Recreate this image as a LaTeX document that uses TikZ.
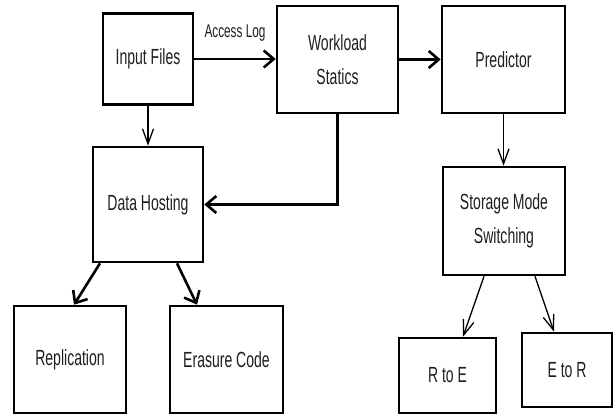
\documentclass[tikz,border=0pt]{standalone}
\usepackage{fontspec}
\setmainfont{Liberation Sans}[FakeStretch=0.64]
\usetikzlibrary{arrows.meta}
\begin{document}
\begin{tikzpicture}[x=1bp,y=-1bp,
  box/.style={draw=black, line width=2.6bp, fill=white, inner sep=0pt, align=center,
    text=black!88, font=\fontsize{22}{34}\selectfont},
  thickarrow/.style={line width=2.6bp, -{Straight Barb[length=10bp,width=17bp,line width=2.6bp]}},
  thinarrow/.style={line width=1.3bp, -{Straight Barb[length=15bp,width=11bp,line width=1.3bp]}},
  lbl/.style={font=\fontsize{18.5}{18}\selectfont, text=black!88, inner sep=0pt}]
\useasboundingbox (0,0) rectangle (615,414);
\fill[white] (0,0) rectangle (615,414);

\node[box, minimum width=90bp, minimum height=91bp] (inp) at (148,59) {Input Files};
\node[box, minimum width=121bp, minimum height=107bp] (wls) at (337.5,59.5) {Workload\\Statics};
\node[box, minimum width=123bp, minimum height=107bp] (pred) at (503.5,59.5) {Predictor};
\node[box, minimum width=122bp, minimum height=108bp] (sms) at (504,221) {Storage Mode\\Switching};
\node[box, minimum width=110bp, minimum height=115bp] (dh) at (148,204.5) {Data Hosting};
\node[box, minimum width=112bp, minimum height=107bp] (rep) at (70,359.5) {Replication};
\node[box, minimum width=113bp, minimum height=107bp] (era) at (226.5,359.5) {Erasure Code};
\node[box, minimum width=97bp, minimum height=75bp] (rte) at (447.5,375.5) {R to E};
\node[box, minimum width=90bp, minimum height=74bp] (etr) at (567,370) {E to R};

\draw[thickarrow] (inp.east) -- (inp.east -| wls.west);
\node[lbl] (alog) at (235,33) {Access Log};
\draw[thickarrow] (wls.east) -- (wls.east -| pred.west);
\draw[thinarrow] (inp.south) -- (inp.south |- dh.north);
\draw[thinarrow] (pred.south) -- (pred.south |- sms.north);
\draw[thickarrow] (wls.south) |- (dh.east);
\draw[thickarrow] ([xshift=-48bp]dh.south) -- ([xshift=4bp]rep.north);
\draw[thickarrow] ([xshift=29bp]dh.south) -- ([xshift=-29.5bp]era.north);
\draw[thinarrow] ([xshift=-20bp]sms.south) -- ([xshift=15.5bp]rte.north);
\draw[thinarrow] ([xshift=31bp]sms.south) -- ([xshift=-13bp]etr.north);
\end{tikzpicture}
\end{document}
